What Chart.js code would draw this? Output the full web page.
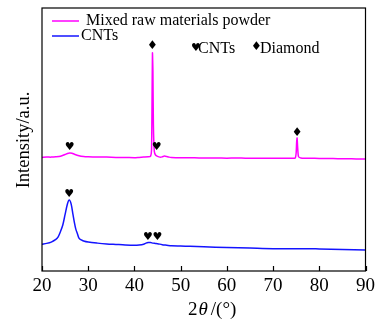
<!DOCTYPE html>
<html>
<head>
<meta charset="utf-8">
<script src="https://cdn.jsdelivr.net/npm/chart.js@4"></script>
<style>
  html, body { margin: 0; padding: 0; background: #fff; }
  #wrap { width: 379px; height: 324px; }
</style>
</head>
<body>
<div id="wrap"><canvas id="xrd"></canvas></div>
<script>
// 2theta positions and intensities (offset so the two patterns stack)
const mixedX = [20, 21, 22, 23, 24, 25, 25.5, 26, 26.5, 27, 28, 29, 30, 32, 34, 36, 38, 40, 41, 42, 43, 43.5, 43.7, 43.8, 43.9, 44.0, 44.1, 44.3, 44.6, 45, 45.5, 46, 46.5, 47, 47.5, 48, 50, 52, 54, 56, 58, 60, 62, 64, 66, 68, 70, 72, 73, 74, 74.8, 75.0, 75.1, 75.2, 75.3, 75.5, 76, 77, 78, 80, 82, 84, 86, 88, 90];
const mixedY = [43.2, 43.3, 43.3, 43.4, 43.6, 44.3, 44.7, 44.9, 44.8, 44.4, 43.8, 43.5, 43.4, 43.3, 43.3, 43.2, 43.2, 43.1, 43.2, 43.3, 43.4, 43.7, 46.0, 62.0, 82.9, 76.0, 56.0, 45.5, 44.0, 43.6, 43.3, 43.4, 43.7, 43.5, 43.3, 43.2, 43.1, 43.1, 43.0, 43.0, 43.0, 42.9, 43.0, 42.9, 42.9, 42.9, 42.9, 42.9, 42.9, 42.9, 43.0, 45.0, 49.0, 50.6, 47.5, 43.5, 43.0, 42.9, 42.9, 42.8, 42.8, 42.7, 42.7, 42.6, 42.6];

const cntX = [20, 21, 22, 23, 23.5, 24, 24.5, 25, 25.5, 25.9, 26.3, 26.7, 27, 27.3, 27.7, 28, 28.5, 29, 30, 32, 34, 36, 38, 40, 41, 42, 42.5, 43, 43.5, 44, 44.5, 45, 46, 47, 48, 50, 52, 55, 60, 65, 70, 75, 78, 80, 85, 90];
const cntY = [10.2, 10.5, 11.0, 12.0, 13.0, 15.0, 17.5, 21.5, 25.5, 27.0, 25.5, 21.5, 18.5, 16.0, 14.0, 12.5, 11.8, 11.4, 11.0, 10.6, 10.3, 10.1, 9.9, 9.8, 9.9, 10.2, 10.6, 10.8, 10.8, 10.6, 10.5, 10.4, 10.0, 9.8, 9.6, 9.5, 9.4, 9.2, 8.9, 8.7, 8.5, 8.5, 8.5, 8.4, 8.2, 8.0];

const xTicks = [20, 30, 40, 50, 60, 70, 80, 90];

// peak markers: 2theta, intensity, symbol
const markX = [43.9, 26.0, 44.8, 75.2, 25.9, 42.9, 45.0];
const markY = [85.6, 47.1, 47.1, 52.5, 29.3, 12.9, 12.9];
const markSym = ["\u2666", "\u2665", "\u2665", "\u2666", "\u2665", "\u2665", "\u2665"];

const serif = "'Liberation Serif', 'Times New Roman', serif";
const symFont = "'DejaVu Sans', sans-serif";
const symSize = { "\u2665": 11, "\u2666": 12 };

const toPoints = (xs, ys) => xs.map((x, i) => ({ x: x, y: ys[i] }));

const decor = {
  id: "decor",
  afterDraw(chart) {
    const ctx = chart.ctx;
    const a = chart.chartArea;
    const xs = chart.scales.x;
    const ys = chart.scales.y;
    ctx.save();

    // frame
    ctx.strokeStyle = "#000";
    ctx.lineWidth = 1.2;
    ctx.strokeRect(a.left, a.top, a.right - a.left, a.bottom - a.top);

    // inward ticks on the bottom axis
    ctx.beginPath();
    xTicks.forEach(v => {
      const px = Math.round(xs.getPixelForValue(v)) + 0.5;
      ctx.moveTo(px, a.bottom);
      ctx.lineTo(px, a.bottom - 5);
    });
    ctx.stroke();

    // peak symbols
    ctx.fillStyle = "#000";
    ctx.textAlign = "center";
    ctx.textBaseline = "middle";
    markX.forEach((x, i) => {
      ctx.font = symSize[markSym[i]] + "px " + symFont;
      ctx.fillText(markSym[i], xs.getPixelForValue(x), ys.getPixelForValue(markY[i]));
    });

    // symbol key
    ctx.textAlign = "left";
    ctx.font = "11px " + symFont;
    ctx.fillText("\u2665", 191, 48);
    ctx.font = "12px " + symFont;
    ctx.fillText("\u2666", 251, 47);
    ctx.font = "16px " + serif;
    ctx.fillText("CNTs", 198, 49);
    ctx.fillText("Diamond", 260, 49);

    // series legend
    chart.data.datasets.forEach((ds, i) => {
      const y = 21 + i * 15;
      ctx.strokeStyle = ds.borderColor;
      ctx.lineWidth = 1.5;
      ctx.beginPath();
      ctx.moveTo(52, y);
      ctx.lineTo(79, y);
      ctx.stroke();
      ctx.fillStyle = "#000";
      ctx.font = "16px " + serif;
      ctx.fillText(ds.label, i === 0 ? 86 : 81, y);
    });

    // axis titles
    ctx.font = "18.5px " + serif;
    ctx.textAlign = "center";
    ctx.save();
    ctx.translate(24, 140);
    ctx.rotate(-Math.PI / 2);
    ctx.fillText("Intensity/a.u.", 0, 0);
    ctx.restore();

    const parts = [["2", ""], ["\u03b8", "italic "], ["/(\u00b0)", ""]];
    ctx.textAlign = "left";
    let x = 188;
    parts.forEach(p => {
      ctx.font = p[1] + "19px " + serif;
      ctx.fillText(p[0], x, 310);
      x += ctx.measureText(p[0]).width + (p[1] ? 3 : 1);
    });
    ctx.restore();
  }
};

new Chart(document.getElementById("xrd"), {
  type: "line",
  data: {
    datasets: [
      {
        label: "Mixed raw materials powder",
        data: toPoints(mixedX, mixedY),
        borderColor: "rgb(255, 0, 255)",
        borderWidth: 1.5,
        pointRadius: 0,
        tension: 0.2,
      },
      {
        label: "CNTs",
        data: toPoints(cntX, cntY),
        borderColor: "rgb(20, 20, 255)",
        borderWidth: 1.5,
        pointRadius: 0,
        tension: 0.3,
      },
    ],
  },
  options: {
    responsive: true,
    maintainAspectRatio: false,
    animation: false,
    layout: { padding: { left: 42, right: 12, top: 8, bottom: 0 } },
    scales: {
      x: {
        type: "linear",
        min: 20,
        max: 90,
        afterBuildTicks: scale => { scale.ticks = xTicks.map(v => ({ value: v })); },
        afterFit: scale => { scale.height = 53; },
        grid: { display: false, drawTicks: false },
        border: { display: false },
        ticks: {
          color: "#000",
          padding: 4,
          maxRotation: 0,
          font: { family: serif, size: 19 },
        },
      },
      y: {
        display: false,
        min: 0,
        max: 100,
      },
    },
    plugins: {
      legend: { display: false },
      tooltip: { enabled: false },
    },
  },
  plugins: [decor],
});
</script>
</body>
</html>
